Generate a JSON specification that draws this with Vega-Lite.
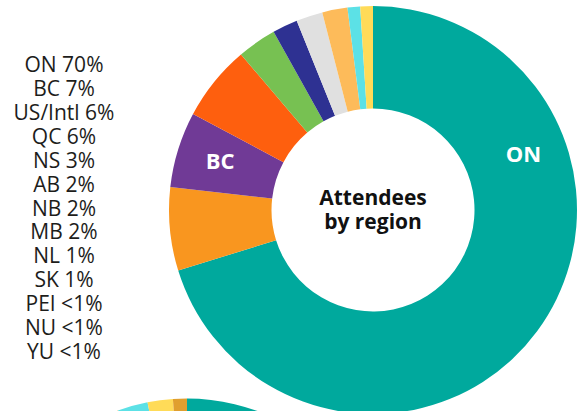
{
  "$schema": "https://vega.github.io/schema/vega-lite/v6.json",
  "padding": {"left": -17, "top": 0, "right": 0, "bottom": 0},
  "bounds": "flush",
  "columns": 2,
  "spacing": {"row": 0, "column": 35},
  "config": {"view": {"stroke": null}, "font": "Open Sans"},
  "resolve": {"scale": {"color": "independent", "theta": "independent", "y": "independent"}},
  "concat": [
    {
      "width": 128,
      "height": 420,
      "data": {"values": [
        {"label": "ON 70%"}, {"label": "BC 7%"}, {"label": "US/Intl 6%"}, {"label": "QC 6%"},
        {"label": "NS 3%"}, {"label": "AB 2%"}, {"label": "NB 2%"}, {"label": "MB 2%"},
        {"label": "NL 1%"}, {"label": "SK 1%"}, {"label": "PEI <1%"}, {"label": "NU <1%"}, {"label": "YU <1%"}
      ]},
      "mark": {"type": "text", "font": "Open Sans", "fontSize": 21, "color": "#1d1d1b", "baseline": "middle"},
      "encoding": {
        "y": {"field": "label", "type": "ordinal", "sort": null, "axis": null, "scale": {"type": "point", "range": [54, 365]}},
        "text": {"field": "label"}
      }
    },
    {
      "width": 420,
      "height": 420,
      "layer": [
        {
          "data": {"values": [
            {"region": "ON", "pct": 70.2, "idx": 1},
            {"region": "US/Intl", "pct": 6.6, "idx": 2},
            {"region": "BC", "pct": 6.0, "idx": 3},
            {"region": "QC", "pct": 6.0, "idx": 4},
            {"region": "NS", "pct": 3.1, "idx": 5},
            {"region": "AB", "pct": 2.0, "idx": 6},
            {"region": "NB", "pct": 2.1, "idx": 7},
            {"region": "MB", "pct": 2.0, "idx": 8},
            {"region": "NL", "pct": 1.0, "idx": 9},
            {"region": "SK", "pct": 1.0, "idx": 10}
          ]},
          "mark": {"type": "arc", "outerRadius": 204, "innerRadius": 101.5},
          "encoding": {
            "theta": {"field": "pct", "type": "quantitative", "stack": true, "scale": {"domain": [0, 100]}},
            "order": {"field": "idx", "type": "quantitative"},
            "color": {
              "field": "region", "type": "nominal", "legend": null,
              "scale": {
                "domain": ["ON", "US/Intl", "BC", "QC", "NS", "AB", "NB", "MB", "NL", "SK"],
                "range": ["#00A99D", "#F9961F", "#703A96", "#FE5F0E", "#77C152", "#2E3192", "#E0E0E0", "#FDBB5A", "#5CE1E6", "#FFDB58"]
              }
            }
          }
        },
        {
          "data": {"values": [
            {"name": "ON", "pos": 19.44},
            {"name": "BC", "pos": 79.8}
          ]},
          "mark": {"type": "text", "radius": 160, "font": "Open Sans", "fontWeight": "bold", "fontSize": 22, "color": "white", "baseline": "middle", "align": "center"},
          "encoding": {
            "theta": {"field": "pos", "type": "quantitative", "stack": null, "scale": {"domain": [0, 100]}},
            "text": {"field": "name"}
          }
        },
        {
          "data": {"values": [{"title": ["Attendees", "by region"]}]},
          "mark": {"type": "text", "font": "Open Sans", "fontWeight": "bold", "fontSize": 21, "lineHeight": 24, "dy": -11, "color": "#111111", "baseline": "middle", "align": "center"},
          "encoding": {"text": {"field": "title"}}
        }
      ]
    },
    {
      "width": 128,
      "height": 365,
      "data": {"values": []},
      "mark": "point"
    },
    {
      "width": 48,
      "height": 365,
      "data": {"values": [
        {"sector": "s1", "pct": 60.0, "idx": 1},
        {"sector": "s2", "pct": 8.0, "idx": 2},
        {"sector": "s3", "pct": 7.0, "idx": 3},
        {"sector": "s4", "pct": 7.0, "idx": 4},
        {"sector": "s5", "pct": 5.0, "idx": 5},
        {"sector": "s6", "pct": 3.0, "idx": 6},
        {"sector": "s7", "pct": 2.5, "idx": 7},
        {"sector": "s8", "pct": 2.0, "idx": 8},
        {"sector": "s9", "pct": 2.4, "idx": 9},
        {"sector": "s10", "pct": 2.0, "idx": 10},
        {"sector": "s11", "pct": 1.1, "idx": 11}
      ]},
      "mark": {"type": "arc", "outerRadius": 204, "innerRadius": 101.5},
      "encoding": {
        "theta": {"field": "pct", "type": "quantitative", "stack": true},
        "order": {"field": "idx", "type": "quantitative"},
        "color": {
          "field": "sector", "type": "nominal", "legend": null,
          "scale": {
            "domain": ["s1", "s2", "s3", "s4", "s5", "s6", "s7", "s8", "s9", "s10", "s11"],
            "range": ["#00A99D", "#F9961F", "#703A96", "#FE5F0E", "#77C152", "#2E3192", "#E0E0E0", "#FDBB5A", "#5CE1E6", "#FFDB58", "#E09F2F"]
          }
        }
      }
    }
  ]
}
